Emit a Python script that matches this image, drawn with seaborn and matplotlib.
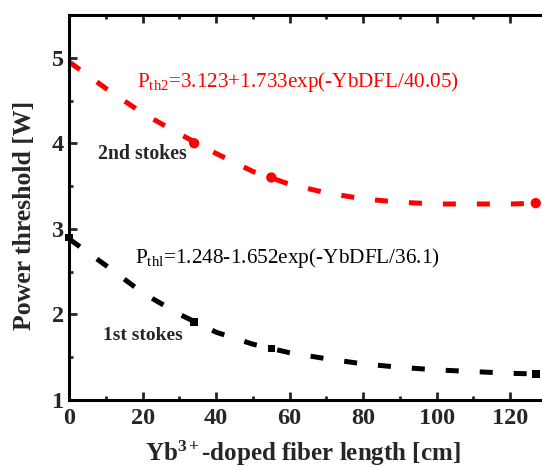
import matplotlib
matplotlib.use("Agg")
import matplotlib.pyplot as plt
import seaborn as sns
import pandas as pd

# ---- data ----
fit_x = [0, 10, 20, 30, 40, 50, 60, 70, 80, 90, 100, 110, 120, 129]
fit2_y = [4.95, 4.64, 4.35, 4.11, 3.88, 3.67, 3.52, 3.42, 3.35, 3.31, 3.29, 3.29, 3.29, 3.30]
fit1_y = [2.88, 2.57, 2.25, 2.00, 1.79, 1.65, 1.55, 1.48, 1.42, 1.38, 1.35, 1.33, 1.31, 1.30]

s2_x = [34, 55, 127]
s2_y = [4.0, 3.6, 3.3]
s1_x = [0, 34, 55, 127]
s1_y = [2.9, 1.91, 1.60, 1.30]

x_ticks = [0, 20, 40, 60, 80, 100, 120]
y_ticks = [1, 2, 3, 4, 5]

eq2 = r"$\mathregular{P_{th2}}$=3.123+1.733exp(-YbDFL/40.05)"
eq1 = r"$\mathregular{P_{thl}}$=1.248-1.652exp(-YbDFL/36.1)"
lab2 = "2nd stokes"
lab1 = "1st stokes"
xlabel = r"$\mathbf{Yb^{3+}}$-doped fiber length [cm]"
ylabel = "Power threshold [W]"

sns.set_style("ticks")
plt.rcParams["font.family"] = ["Liberation Serif", "DejaVu Serif"]
plt.rcParams["mathtext.fontset"] = "custom"
plt.rcParams["mathtext.rm"] = "Liberation Serif"
plt.rcParams["mathtext.bf"] = "Liberation Serif:bold"
plt.rcParams["mathtext.it"] = "Liberation Serif:italic"

W, H = 542, 468
fig = plt.figure(figsize=(W / 100, H / 100), dpi=100)
ax_l, ax_b, ax_t = 69.3, 399.8, 15
ax = fig.add_axes([ax_l / W, 1 - ax_b / H, 1 - ax_l / W, (ax_b - ax_t) / H])

df2 = pd.DataFrame({"x": fit_x, "y": fit2_y})
df1 = pd.DataFrame({"x": fit_x, "y": fit1_y})
lw = 3.6
dash = (2.6, 4.2)
sns.lineplot(data=df2, x="x", y="y", ax=ax, color="#ff0000", lw=lw, sort=True)
sns.lineplot(data=df1, x="x", y="y", ax=ax, color="black", lw=lw, sort=True)
for ln in ax.lines:
    ln.set_dashes(dash)
    ln.set_dash_capstyle("butt")

sns.scatterplot(x=s2_x, y=s2_y, ax=ax, color="#ff0000", marker="o", s=55,
                edgecolor="none", zorder=5, clip_on=False)
sns.scatterplot(x=s1_x, y=s1_y, ax=ax, color="black", marker="s", s=30,
                edgecolor="none", zorder=5, clip_on=False)

ax.set_xlim(0, 128.7)
ax.set_ylim(1, 5.47)
ax.set_xticks(x_ticks)
ax.set_yticks(y_ticks)
ax.set_xticks(range(10, 130, 20), minor=True)
ax.set_yticks([1.5, 2.5, 3.5, 4.5, 5.5], minor=True)
ax.set_xticklabels([str(v) for v in x_ticks], fontweight="bold", fontsize=17.5)
ax.set_yticklabels([str(v) for v in y_ticks], fontweight="bold", fontsize=17.5)
ax.tick_params(which="both", direction="in", top=True, right=False, width=2.0)
ax.tick_params(which="major", length=5.5)
ax.tick_params(which="minor", length=3)
ax.tick_params(axis="x", which="major", pad=6)
ax.tick_params(axis="y", which="major", pad=4)

for side in ["left", "bottom", "top"]:
    ax.spines[side].set_linewidth(2.2)
    ax.spines[side].set_color("black")
ax.spines["right"].set_visible(False)

ax_w = W - ax_l
ax_h = ax_b - ax_t
ax.set_xlabel(xlabel, fontweight="bold", fontsize=18)
ax.set_ylabel(ylabel, fontweight="bold", fontsize=18.5)
ax.xaxis.set_label_coords((303 - ax_l) / ax_w, -(439 - ax_b) / ax_h)
ax.yaxis.set_label_coords(-(ax_l - 36) / ax_w, (ax_b - 215) / ax_h)


def px(x, y):
    return x / W, 1 - y / H


fig.text(*px(136.7, 86.7), eq2, fontsize=15.2, color="#ff0000",
         va="baseline", ha="left")
fig.text(*px(135, 263), eq1, fontsize=15.3, color="black",
         va="baseline", ha="left")
fig.text(*px(98, 159), lab2, fontsize=14.2, fontweight="bold",
         va="baseline", ha="left")
fig.text(*px(103, 340), lab1, fontsize=14, fontweight="bold",
         va="baseline", ha="left")

fig.savefig("out.png", dpi=100)
